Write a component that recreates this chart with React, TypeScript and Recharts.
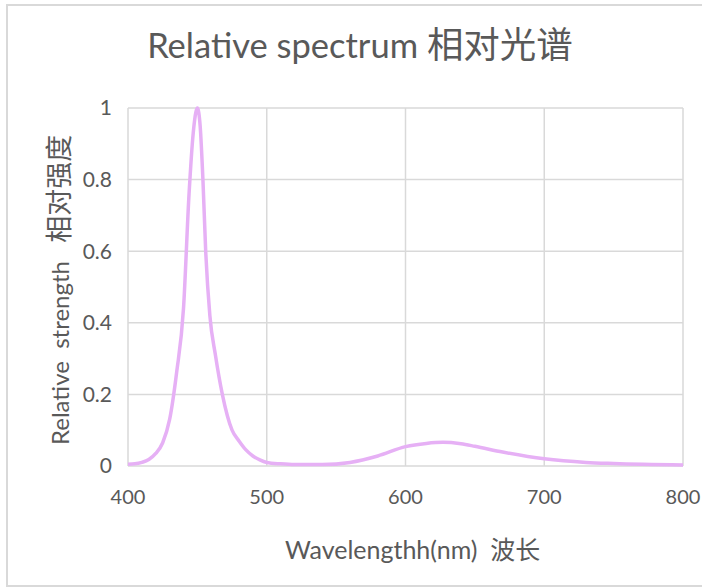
import { CartesianGrid, Label, Line, LineChart, XAxis, YAxis } from "recharts";

const wavelengths = [
  400, 405, 410, 415, 420, 425, 430, 435, 440, 444, 447, 449, 450, 452, 454, 456, 459, 463, 468,
  475, 480, 485, 490, 495, 500, 510, 520, 540, 560, 580, 600, 615, 627, 640, 650, 670, 700, 730,
  750, 800,
];
const strength = [
  0.005, 0.006, 0.01, 0.018, 0.035, 0.065, 0.13, 0.26, 0.44, 0.76, 0.93, 0.99, 1.0, 0.95, 0.8,
  0.6, 0.42, 0.31, 0.2, 0.1, 0.07, 0.045, 0.028, 0.017, 0.01, 0.006, 0.004, 0.004, 0.01, 0.028,
  0.054, 0.063, 0.066, 0.062, 0.055, 0.039, 0.02, 0.01, 0.007, 0.003,
];
const xTicks = [400, 500, 600, 700, 800];
const yTicks = [0, 0.2, 0.4, 0.6, 0.8, 1];

const data = wavelengths.map((nm, i) => ({ nm, value: strength[i] }));

const font = "Lato, 'Noto Sans CJK SC', sans-serif";
const cjkFont = "'Noto Sans CJK SC', sans-serif";
const textColor = "#595959";
const gridColor = "#d9d9d9";

export default function App() {
  return (
    <div style={{ position: "fixed", left: 0, top: 0, width: 702, height: 587, background: "#fff" }}>
      <div
        style={{
          position: "absolute",
          left: 6,
          top: 4,
          width: 720,
          height: 579,
          border: `2px solid ${gridColor}`,
        }}
      />
      <svg width={702} height={80} style={{ position: "absolute", left: 0, top: 0 }}>
        <text x={360} y={58} textAnchor="middle" fill={textColor} fontFamily={font} fontSize={34.5}>
          Relative spectrum{" "}
          <tspan fontFamily={cjkFont} fontSize={36.5}>
            相对光谱
          </tspan>
        </text>
      </svg>
      <LineChart
        width={702}
        height={587}
        data={data}
        margin={{ top: 108, right: 19, bottom: 91, left: 0 }}
        style={{ position: "absolute", left: 0, top: 0, fontFamily: font }}
      >
        <CartesianGrid stroke={gridColor} strokeWidth={1.5} />
        <XAxis
          type="number"
          dataKey="nm"
          domain={[400, 800]}
          ticks={xTicks}
          height={30}
          axisLine={false}
          tickLine={false}
          tickMargin={18}
          tick={{ fill: textColor, fontSize: 20 }}
        >
          <Label
            content={() => (
              <text x={285} y={559} fill={textColor} fontSize={25} fontFamily={font}>
                Wavelengthh(nm)&#160;&#160;
                <tspan fontFamily={cjkFont} fontSize={25}>
                  波长
                </tspan>
              </text>
            )}
          />
        </XAxis>
        <YAxis
          type="number"
          domain={[0, 1]}
          ticks={yTicks}
          width={128}
          axisLine={false}
          tickLine={false}
          tickMargin={10}
          tick={{ fill: textColor, fontSize: 21 }}
        >
          <Label
            content={() => (
              <text
                x={69}
                y={445}
                transform="rotate(-90, 69, 445)"
                fill={textColor}
                fontSize={24}
                fontFamily={font}
              >
                Relative&#160;&#160;strength&#160;&#160;&#160;
                <tspan fontFamily={cjkFont} fontSize={27}>
                  相对强度
                </tspan>
              </text>
            )}
          />
        </YAxis>
        <Line
          type="monotone"
          dataKey="value"
          stroke="#e6b0f5"
          strokeWidth={3.5}
          dot={false}
          isAnimationActive={false}
        />
      </LineChart>
    </div>
  );
}
